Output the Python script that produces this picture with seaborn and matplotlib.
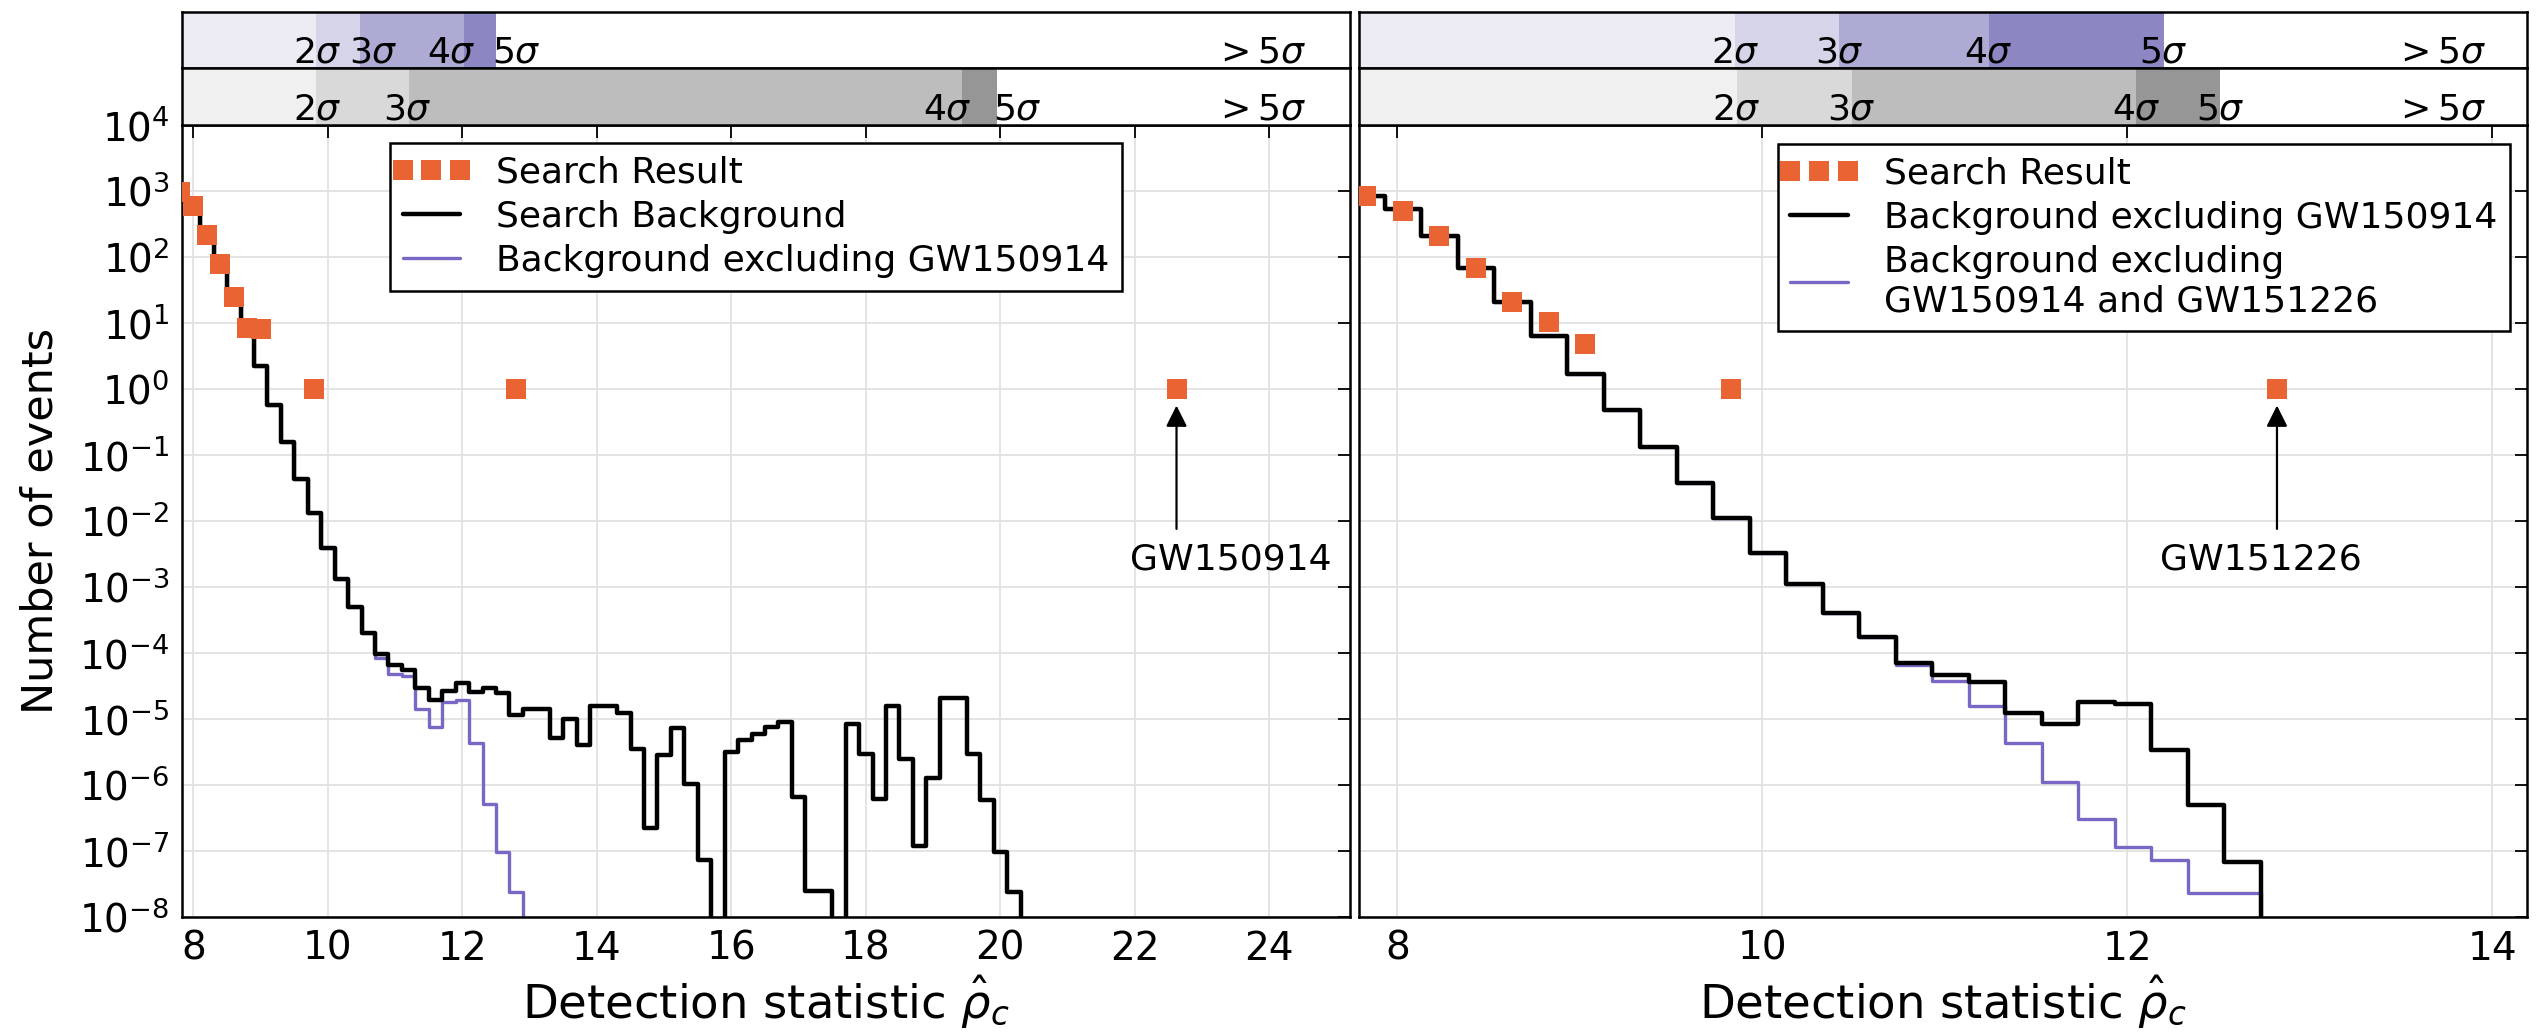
import numpy as np
import matplotlib
matplotlib.use("Agg")
import matplotlib.pyplot as plt
import matplotlib.transforms as mtransforms
from matplotlib.lines import Line2D
from matplotlib.legend_handler import HandlerLine2D
from matplotlib.ticker import LogLocator, NullLocator
import seaborn as sns

# ---------------------------------------------------------------- data
BIN_W = 0.2

# left panel: background histograms (bin centres / number of events)
left_bins = [7.8, 8.0, 8.2, 8.4, 8.6, 8.8, 9.0, 9.2, 9.4, 9.6, 9.8, 10.0, 10.2, 10.4,
             10.6, 10.8, 11.0, 11.2, 11.4, 11.6, 11.8, 12.0, 12.2, 12.4, 12.6, 12.8,
             13.0, 13.2, 13.4, 13.6, 13.8, 14.0, 14.2, 14.4, 14.6, 14.8, 15.0, 15.2,
             15.4, 15.6, 15.8, 16.0, 16.2, 16.4, 16.6, 16.8, 17.0, 17.2, 17.4, 17.6,
             17.8, 18.0, 18.2, 18.4, 18.6, 18.8, 19.0, 19.2, 19.4, 19.6, 19.8, 20.0,
             20.2, 20.4]
left_search_bg = [1.1e3, 6.5e2, 2.3e2, 8.0e1, 2.6e1, 8.5, 2.2, 5.7e-1, 1.6e-1, 4.4e-2,
                  1.3e-2, 3.9e-3, 1.3e-3, 4.9e-4, 2.0e-4, 9.5e-5, 6.6e-5, 5.6e-5, 3.0e-5,
                  1.95e-5, 2.7e-5, 3.5e-5, 2.6e-5, 2.9e-5, 2.45e-5, 1.15e-5, 1.4e-5,
                  1.4e-5, 5.1e-6, 1.0e-5, 4.1e-6, 1.6e-5, 1.55e-5, 1.25e-5, 3.5e-6,
                  2.2e-7, 2.8e-6, 7.4e-6, 1.05e-6, 7.2e-8, 0.0, 3.2e-6, 4.8e-6, 6.0e-6,
                  7.6e-6, 8.9e-6, 6.6e-7, 2.5e-8, 2.5e-8, 0.0, 8.3e-6, 3.0e-6, 6.2e-7,
                  1.6e-5, 2.5e-6, 1.2e-7, 1.26e-6, 2.1e-5, 2.1e-5, 3.0e-6, 5.9e-7,
                  9.5e-8, 2.4e-8, 0.0]
left_excl_bins = [7.8, 8.0, 8.2, 8.4, 8.6, 8.8, 9.0, 9.2, 9.4, 9.6, 9.8, 10.0, 10.2,
                  10.4, 10.6, 10.8, 11.0, 11.2, 11.4, 11.6, 11.8, 12.0, 12.2, 12.4,
                  12.6, 12.8, 13.0]
left_bg_excl = [1.1e3, 6.5e2, 2.3e2, 8.0e1, 2.6e1, 8.5, 2.2, 5.7e-1, 1.6e-1, 4.4e-2,
                1.3e-2, 3.9e-3, 1.3e-3, 4.9e-4, 2.0e-4, 8.3e-5, 4.8e-5, 4.5e-5, 1.4e-5,
                7.6e-6, 1.8e-5, 1.95e-5, 4.3e-6, 5.2e-7, 9.5e-8, 2.4e-8, 0.0]
left_result_x = [7.8, 8.0, 8.2, 8.4, 8.6, 8.8, 9.0, 9.8, 12.8, 22.62]
left_result_n = [960, 590, 218, 79, 25, 8.3, 8.0, 1, 1, 1]

# right panel
right_bins = [7.83, 8.03, 8.23, 8.43, 8.63, 8.83, 9.03, 9.23, 9.43, 9.63, 9.83, 10.03,
              10.23, 10.43, 10.63, 10.83, 11.03, 11.23, 11.43, 11.63, 11.83, 12.03,
              12.23, 12.43, 12.63, 12.83]
right_bg_excl1 = [850, 540, 210, 69, 21, 6.3, 1.7, 0.48, 0.13, 0.037, 0.011, 3.3e-3,
                  1.1e-3, 4.1e-4, 1.74e-4, 7.1e-5, 4.6e-5, 3.6e-5, 1.23e-5, 8.3e-6,
                  1.8e-5, 1.66e-5, 3.4e-6, 4.9e-7, 6.9e-8, 0.0]
right_bg_excl2 = [850, 540, 210, 69, 21, 6.3, 1.7, 0.48, 0.13, 0.037, 0.011, 3.3e-3,
                  1.1e-3, 4.1e-4, 1.74e-4, 6.6e-5, 3.7e-5, 1.6e-5, 4.3e-6, 1.1e-6,
                  3.1e-7, 1.15e-7, 7.2e-8, 2.3e-8, 2.3e-8, 0.0]
right_result_x = [7.83, 8.03, 8.23, 8.43, 8.63, 8.83, 9.03, 9.83, 12.82]
right_result_n = [840, 500, 210, 69, 20.5, 10.5, 4.8, 1, 1]

# significance bands (boundaries of 2,3,4,5 sigma)
sigma_labels = [r"$2\sigma$", r"$3\sigma$", r"$4\sigma$", r"$5\sigma$"]
gt_label = r"$>5\sigma$"
left_top_bounds = [9.83, 10.47, 12.02, 12.50]
left_bot_bounds = [9.83, 11.21, 19.43, 19.95]
right_top_bounds = [9.85, 10.42, 11.24, 12.20]
right_bot_bounds = [9.86, 10.49, 12.05, 12.51]

left_x_ticks = [8, 10, 12, 14, 16, 18, 20, 22, 24]
right_x_ticks = [8, 10, 12, 14]

# ---------------------------------------------------------------- style
ORANGE = "#EA6332"
PURPLE = "#7A66C4"
PURPLES = ["#EDECF5", "#D5D4E9", "#ADAAD3", "#8C87C3"]
GREYS = ["#F0F0F0", "#D9D9D9", "#BDBDBD", "#969696"]
GRID = "#E2E2E2"
FS_TICK = 28
FS_LABEL = 33.5
FS_LEG = 26
FS_SIG = 26

# label positions (layout only)
left_top_label_x = [9.85, 10.67, 11.84, 12.81]
left_bot_label_x = [9.85, 11.18, 19.22, 20.26]
left_gt_x = 23.85
right_top_label_x = [9.85, 10.42, 11.24, 12.20]
right_bot_label_x = [9.86, 10.49, 12.05, 12.51]
right_gt_x = 13.71
left_event_text_x = 21.93
right_event_text_x = 12.18

sns.set_theme(style="white")
plt.rcParams.update({
    "font.family": ["DejaVu Sans"],
    "mathtext.fontset": "dejavusans",
    "axes.edgecolor": "black",
    "axes.linewidth": 1.8,
    "text.color": "black",
    "xtick.color": "black",
    "ytick.color": "black",
    "axes.labelcolor": "black",
})

W, H = 2542, 1035
fig = plt.figure(figsize=(W / 100, H / 100), dpi=100)


def rect(x0, y0, x1, y1):
    return [x0 / W, 1 - y1 / H, (x1 - x0) / W, (y1 - y0) / H]


axL = fig.add_axes(rect(182, 125, 1350, 917))
axR = fig.add_axes(rect(1359, 125, 2527, 917))
barL1 = fig.add_axes(rect(182, 12, 1350, 68))
barL2 = fig.add_axes(rect(182, 68, 1350, 125))
barR1 = fig.add_axes(rect(1359, 12, 2527, 68))
barR2 = fig.add_axes(rect(1359, 68, 2527, 125))

XLIM_L = (7.83, 25.2)
XLIM_R = (7.79, 14.19)


def edges_from(centers):
    c = np.asarray(centers, dtype=float)
    return [float(v) for v in np.append(c - BIN_W / 2, c[-1] + BIN_W / 2)]


def step_hist(ax, centers, values, color, lw):
    sns.histplot(x=list(centers), weights=list(values), bins=edges_from(centers),
                 element="step", fill=False, color=color, linewidth=lw,
                 stat="count", ax=ax)


LW_BLACK = 3.2
LW_PURPLE = 2.4

# left panel
step_hist(axL, left_excl_bins, left_bg_excl, PURPLE, LW_PURPLE)
step_hist(axL, left_bins, left_search_bg, "black", LW_BLACK)
sns.scatterplot(x=left_result_x, y=left_result_n, marker="s", s=14.4 ** 2,
                color=ORANGE, linewidth=0, ax=axL, zorder=5, legend=False)

# right panel
step_hist(axR, right_bins, right_bg_excl2, PURPLE, LW_PURPLE)
step_hist(axR, right_bins, right_bg_excl1, "black", LW_BLACK)
sns.scatterplot(x=right_result_x, y=right_result_n, marker="s", s=14.4 ** 2,
                color=ORANGE, linewidth=0, ax=axR, zorder=5, legend=False)

for ax, xl, xt in [(axL, XLIM_L, left_x_ticks), (axR, XLIM_R, right_x_ticks)]:
    ax.set_yscale("log")
    ax.set_ylim(1e-8, 1e4)
    ax.set_xlim(*xl)
    ax.set_xticks(xt)
    ax.yaxis.set_major_locator(LogLocator(base=10, numticks=30))
    ax.yaxis.set_minor_locator(NullLocator())
    ax.xaxis.set_minor_locator(NullLocator())
    ax.grid(True, which="major", color=GRID, linewidth=1.3)
    ax.set_axisbelow(True)
    ax.tick_params(axis="both", which="major", direction="in", length=9, width=1.3,
                   top=True, right=True, labelsize=FS_TICK, pad=9)
    ax.set_xlabel(r"Detection statistic $\hat{\rho}_c$", fontsize=FS_LABEL)
    ax.xaxis.set_label_coords(0.5, -0.072)
    for s in ax.spines.values():
        s.set_linewidth(1.8)
        s.set_color("black")

axL.set_ylabel("Number of events", fontsize=31)
axL.yaxis.set_label_coords(-0.103, 0.5)
axR.set_ylabel("")
axR.tick_params(labelleft=False)


# event annotations
def mark_event(ax, x, text_x, label):
    ax.annotate("", xy=(x, 10 ** -0.25), xytext=(x, 10 ** -2.12),
                arrowprops=dict(arrowstyle="-|>", color="black", lw=1.6,
                                mutation_scale=32, shrinkA=0, shrinkB=0))
    ax.text(text_x, 10 ** -2.73, label, ha="left", va="baseline", fontsize=FS_LEG)


mark_event(axL, left_result_x[-1], left_event_text_x, "GW150914")
mark_event(axR, right_result_x[-1], right_event_text_x, "GW151226")


# legends
def make_legend(ax, labels, loc, anchor):
    sq = Line2D([], [], marker="s", ls="none", color=ORANGE, markersize=14.4,
                markeredgewidth=0)
    bk = Line2D([], [], color="black", lw=LW_BLACK)
    pu = Line2D([], [], color=PURPLE, lw=LW_PURPLE)
    leg = ax.legend([sq, bk, pu], labels, loc=loc, bbox_to_anchor=anchor,
                    borderaxespad=0, fontsize=FS_LEG, handlelength=1.6,
                    handletextpad=1.0, borderpad=0.35, labelspacing=0.28,
                    frameon=True, fancybox=False, framealpha=1, edgecolor="black",
                    facecolor="white",
                    handler_map={sq: HandlerLine2D(numpoints=3, marker_pad=0)})
    leg.get_frame().set_linewidth(1.8)
    leg.set_zorder(10)
    return leg


make_legend(axL, ["Search Result", "Search Background", "Background excluding GW150914"],
            "upper left", (0.178, 0.977))
make_legend(axR, ["Search Result", "Background excluding GW150914",
                  "Background excluding\nGW150914 and GW151226"],
            "upper right", (0.9855, 0.976))


# significance bars
def draw_bar(ax, xlim, bounds, colors, label_x, gt_x):
    ax.set_xlim(*xlim)
    ax.set_ylim(0, 1)
    edges = [xlim[0]] + list(bounds)
    for i in range(4):
        ax.axvspan(edges[i], edges[i + 1], color=colors[i], lw=0)
    trans = mtransforms.blended_transform_factory(ax.transData, ax.transAxes)
    for lx, lab in zip(label_x, sigma_labels):
        ax.text(lx, 0.1, lab, transform=trans, ha="center", va="baseline", fontsize=FS_SIG)
    ax.text(gt_x, 0.1, gt_label, transform=trans, ha="center", va="baseline", fontsize=FS_SIG)
    ax.set_xticks([])
    ax.set_yticks([])
    ax.grid(False)
    for s in ax.spines.values():
        s.set_linewidth(1.8)
        s.set_color("black")


draw_bar(barL1, XLIM_L, left_top_bounds, PURPLES, left_top_label_x, left_gt_x)
draw_bar(barL2, XLIM_L, left_bot_bounds, GREYS, left_bot_label_x, left_gt_x)
draw_bar(barR1, XLIM_R, right_top_bounds, PURPLES, right_top_label_x, right_gt_x)
draw_bar(barR2, XLIM_R, right_bot_bounds, GREYS, right_bot_label_x, right_gt_x)

fig.savefig("out.png", dpi=100, facecolor="white")
